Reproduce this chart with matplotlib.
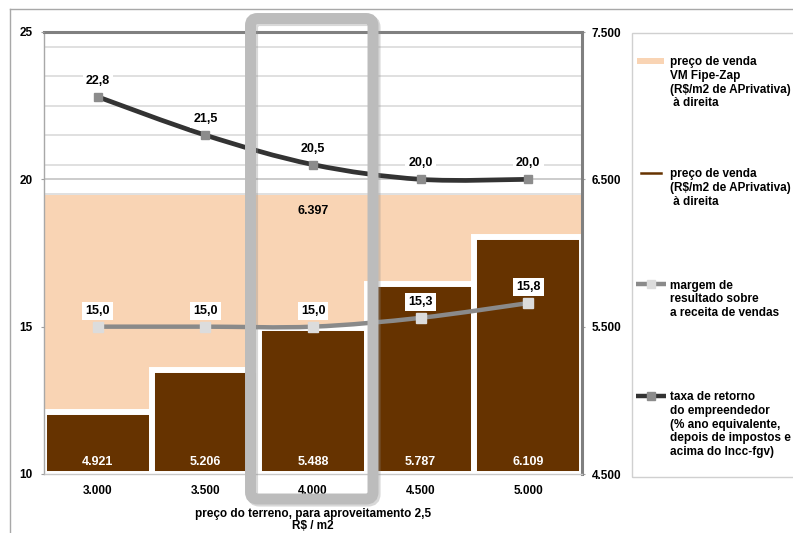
import numpy as np
import matplotlib
matplotlib.use("Agg")
from matplotlib import pyplot as plt
from matplotlib.path import Path
from matplotlib.patches import PathPatch, Rectangle, FancyBboxPatch
from matplotlib.lines import Line2D
from matplotlib.ticker import MultipleLocator, FixedLocator

plt.rcParams['font.family'] = ['Liberation Sans', 'DejaVu Sans']
plt.rcParams['font.weight'] = 'bold'
plt.rcParams['axes.labelweight'] = 'bold'
plt.rcParams['font.size'] = 8.5

# dados
categorias = ['3.000', '3.500', '4.000', '4.500', '5.000']
preco_venda = [4921, 5206, 5488, 5787, 6109]   # R$/m2 APrivativa (eixo direito)
preco_fipezap = 6397                           # VM Fipe-Zap (eixo direito)
margem = [15.0, 15.0, 15.0, 15.3, 15.8]        # % sobre receita (eixo esquerdo)
taxa_retorno = [22.8, 21.5, 20.5, 20.0, 20.0]  # % ano equivalente (eixo esquerdo)

PESSEGO = '#F9D4B4'
MARROM = '#663300'
CINZA_ESC = '#333333'
CINZA = '#8A8A8A'

W, H = 793, 533
fig = plt.figure(figsize=(W / 100, H / 100), dpi=100)


def fx(px):
    return px / W


def fy(py):
    return 1 - py / H


def br(v, casas=0):
    if casas == 0:
        return f"{v:,.0f}".replace(',', '.')
    return f"{v:.{casas}f}".replace('.', ',')


def curva_suave(xs, ys):
    # curva de Bezier passando pelos pontos (suavizacao tipo Excel)
    pts = np.column_stack([xs, ys]).astype(float)
    n = len(pts)
    verts = [pts[0]]
    codes = [Path.MOVETO]
    for i in range(n - 1):
        p0 = pts[max(i - 1, 0)]
        p1 = pts[i]
        p2 = pts[i + 1]
        p3 = pts[min(i + 2, n - 1)]
        verts += [p1 + (p2 - p0) / 6, p2 - (p3 - p1) / 6, p2]
        codes += [Path.CURVE4] * 3
    return Path(verts, codes)


x = np.arange(len(categorias))

# eixo das barras (escala da direita)
ax = fig.add_axes([fx(44), fy(474), fx(582) - fx(44), fy(32) - fy(474)])
ax.set_xlim(-0.5, len(categorias) - 0.5)
ax.set_ylim(4500, 7500)
ax.yaxis.set_major_locator(FixedLocator([4500, 5500, 6500, 7500]))
ax.yaxis.set_minor_locator(MultipleLocator(200))
ax.grid(which='minor', axis='y', color='#DADADA', lw=1.2)
ax.grid(which='major', axis='y', color='#C4C4C4', lw=1.2)
ax.set_axisbelow(True)

ax.fill_between([-0.5, len(categorias) - 0.5], 4500, preco_fipezap,
                color=PESSEGO, lw=0, zorder=1)
ax.bar(x, np.array(preco_venda) - 4500, bottom=4500, width=1.0,
       color=MARROM, edgecolor='white', linewidth=4.3, zorder=2)

for xi, v in zip(x, preco_venda):
    ax.annotate(br(v), (xi, 4500), xytext=(0, 12), textcoords='offset pixels',
                ha='center', va='center', color='white', fontsize=9, zorder=5)
ax.annotate(br(preco_fipezap), (2, preco_fipezap), xytext=(0, -16),
            textcoords='offset pixels', ha='center', va='center', color='black',
            fontsize=9, zorder=5)

ax.set_xticks(x)
ax.set_xticklabels(categorias)
ax.tick_params(axis='x', length=0, pad=8)
ax.set_xlabel('preço do terreno, para aproveitamento 2,5\nR$ / m2',
              labelpad=7.8, linespacing=1.0)

for s in ['top', 'right']:
    ax.spines[s].set_color('#808080')
    ax.spines[s].set_linewidth(2.2)
ax.spines['left'].set_color('#A8A8A8')
ax.spines['left'].set_linewidth(1.0)
ax.spines['bottom'].set_color('#C8C8C8')
ax.spines['bottom'].set_linewidth(1.0)

# eixo das linhas (escala da esquerda)
ax2 = ax.twinx()
ax2.set_ylim(10, 25)
ax2.set_yticks([10, 15, 20, 25])
for s in ax2.spines.values():
    s.set_visible(False)

# valores em R$ do lado direito, percentuais do lado esquerdo
ax.yaxis.tick_right()
ax.yaxis.set_label_position('right')
ax.set_yticklabels([br(v) for v in [4500, 5500, 6500, 7500]])
ax.tick_params(axis='y', which='major', length=2.5, color='#A0A0A0', pad=4.3)
ax.tick_params(axis='y', which='minor', length=0)
ax2.yaxis.tick_left()
ax2.tick_params(axis='y', length=2.2, color='#A0A0A0', pad=6.2)

ax2.add_patch(PathPatch(curva_suave(x, margem), fill=False, ec=CINZA,
                        lw=3.2, capstyle='butt', zorder=3))
ax2.plot(x, margem, ls='none', marker='s', ms=6.5, mfc='#DCDCDC',
         mec='#DCDCDC', zorder=4)
ax2.add_patch(PathPatch(curva_suave(x, taxa_retorno), fill=False, ec=CINZA_ESC,
                        lw=3.4, capstyle='butt', zorder=3))
ax2.plot(x, taxa_retorno, ls='none', marker='s', ms=6, mfc='#8C8C8C',
         mec='#8C8C8C', zorder=4)

caixa = dict(boxstyle='square,pad=0.25', fc='white', ec='none')
for serie in (margem, taxa_retorno):
    for xi, v in zip(x, serie):
        ax2.annotate(br(v, 1), (xi, v), xytext=(0, 16), textcoords='offset pixels',
                     ha='center', va='center', fontsize=9, bbox=caixa, zorder=6)

# moldura externa
fig.add_artist(Line2D([fx(10), fx(10)], [0, fy(9)], color='#A8A8A8', lw=1))
fig.add_artist(Line2D([fx(10), 1], [fy(9), fy(9)], color='#A8A8A8', lw=1))

# destaque na coluna de 4.000
sombra = FancyBboxPatch((2.525, (H - 501) / 100), 1.225, 4.805,
                        boxstyle='round,pad=0,rounding_size=0.07',
                        transform=fig.dpi_scale_trans, fc='none', ec='#909090',
                        lw=8, alpha=0.35, zorder=9)
fig.add_artist(sombra)
destaque = FancyBboxPatch((2.505, (H - 499) / 100), 1.225, 4.805,
                          boxstyle='round,pad=0,rounding_size=0.07',
                          transform=fig.dpi_scale_trans, fc='none', ec='#BCBCBC',
                          lw=7.9, zorder=10)
fig.add_artist(destaque)

# legenda
fig.add_artist(Rectangle((fx(632), fy(477)), 0.5, fy(33) - fy(477),
                         transform=fig.transFigure, fill=False,
                         ec='#D0D0D0', lw=1))
itens = [
    ('area', 61, 'preço de venda\nVM Fipe-Zap\n(R$/m2 de APrivativa)\n à direita'),
    ('marrom', 173, 'preço de venda\n(R$/m2 de APrivativa)\n à direita'),
    ('margem', 284, 'margem de\nresultado sobre\na receita de vendas'),
    ('taxa', 396, 'taxa de retorno\ndo empreendedor\n(% ano equivalente,\n'
                  'depois de impostos e\nacima do Incc-fgv)'),
]
for tipo, py, texto in itens:
    if tipo == 'area':
        fig.add_artist(Rectangle((fx(637), fy(py + 3)), fx(664) - fx(637),
                                 fy(py - 3) - fy(py + 3),
                                 transform=fig.transFigure, fc=PESSEGO, ec='none'))
    elif tipo == 'marrom':
        fig.add_artist(Line2D([fx(641), fx(661)], [fy(py), fy(py)],
                              color=MARROM, lw=1.8))
    else:
        cor, mcor = (CINZA, '#DCDCDC') if tipo == 'margem' else (CINZA_ESC, '#8C8C8C')
        fig.add_artist(Line2D([fx(636), fx(666)], [fy(py), fy(py)], color=cor,
                              lw=3.2, solid_capstyle='butt'))
        fig.add_artist(Line2D([fx(651)], [fy(py)], ls='none', marker='s', ms=5.5,
                              mfc=mcor, mec=mcor))
    fig.text(fx(670), fy(py - 4.5), texto, ha='left', va='top', linespacing=1.17)

plt.savefig('out.png', dpi=100)
